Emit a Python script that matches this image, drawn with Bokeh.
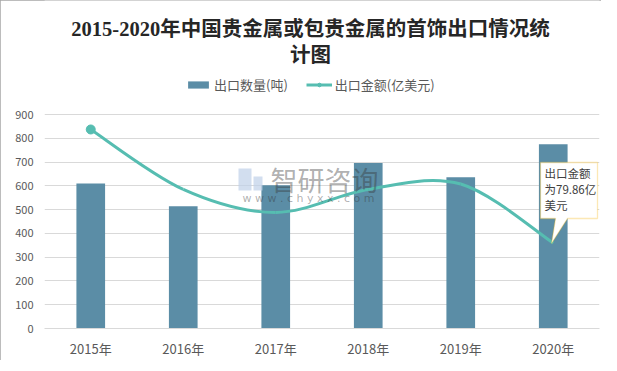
from bokeh.plotting import figure
from bokeh.models import (Range1d, FixedTicker, Label, Legend, LegendItem,
                          PolyAnnotation, BoxAnnotation)
from bokeh.embed import file_html
from bokeh.resources import INLINE

# ---- data ----
years = ["2015年", "2016年", "2017年", "2018年", "2019年", "2020年"]
export_volume = [610, 514, 602, 696, 636, 775]            # 出口数量(吨)
export_value = [186.0, 130.0, 108.5, 130.0, 135.0, 79.86]  # 出口金额(亿美元)
y_ticks = [0, 100, 200, 300, 400, 500, 600, 700, 800, 900]
title_lines = ["2015-2020年中国贵金属或包贵金属的首饰出口情况统", "计图"]

BAR = "#5B8DA6"
LINE = "#56BDB1"
CJK = "Noto Sans CJK SC"

# frame spans canvas y 0..328; the 0..900 grid occupies the lower 214 px
FRAME_H = 328
GRID_H = 214
y_top = 900 * FRAME_H / GRID_H
amt_top = 200 * FRAME_H / GRID_H

p = figure(frame_width=555, frame_height=FRAME_H, output_backend="svg",
           toolbar_location=None,
           x_range=Range1d(-0.5, len(years) - 0.5), y_range=Range1d(0, y_top),
           min_border_left=44, min_border_right=2, min_border_top=0,
           min_border_bottom=27)
p.extra_y_ranges = {"amt": Range1d(0, amt_top)}
p.outline_line_color = None
p.background_fill_color = "white"
p.border_fill_color = "white"
p.styles = {"outline": "1px solid #A6A6A6", "outline-offset": "-1px"}

idx = list(range(len(years)))

# bars
bars = p.vbar(x=idx, top=export_volume, width=0.31, fill_color=BAR, line_color=None)

# smooth line (Catmull-Rom rendered as Bezier segments)
n = len(export_value)
def pt(i):
    i = max(0, min(n - 1, i))
    return idx[i], export_value[i]
x0, y0, x1, y1, cx0, cy0, cx1, cy1 = [], [], [], [], [], [], [], []
for i in range(n - 1):
    pa, pb, pc, pd = pt(i - 1), pt(i), pt(i + 1), pt(i + 2)
    x0.append(pb[0]); y0.append(pb[1]); x1.append(pc[0]); y1.append(pc[1])
    cx0.append(pb[0] + (pc[0] - pa[0]) / 6); cy0.append(pb[1] + (pc[1] - pa[1]) / 6)
    cx1.append(pc[0] - (pd[0] - pb[0]) / 6); cy1.append(pc[1] - (pd[1] - pb[1]) / 6)
curve = p.bezier(x0=x0, y0=y0, x1=x1, y1=y1, cx0=cx0, cy0=cy0, cx1=cx1, cy1=cy1,
                 line_color=LINE, line_width=3, y_range_name="amt")
start = p.scatter(x=idx[:1], y=export_value[:1], size=9, marker="circle",
                  fill_color=LINE, line_color=LINE, y_range_name="amt")

# axes
p.xgrid.grid_line_color = None
p.ygrid.grid_line_color = "#D9D9D9"
p.ygrid.ticker = FixedTicker(ticks=y_ticks)
p.yaxis.ticker = FixedTicker(ticks=y_ticks)
p.xaxis.ticker = FixedTicker(ticks=idx)
p.xaxis.major_label_overrides = {i: y for i, y in zip(idx, years)}
for ax in (p.xaxis, p.yaxis):
    ax.axis_line_color = None
    ax.major_tick_line_color = None
    ax.minor_tick_line_color = None
    ax.major_tick_out = 0
    ax.major_tick_in = 0
    ax.major_label_text_color = "#595959"
    ax.major_label_text_font = CJK
p.xaxis.axis_line_color = "#D9D9D9"
p.yaxis.major_label_text_font_size = "11px"
p.xaxis.major_label_text_font_size = "13px"
p.yaxis.major_label_standoff = 11
p.xaxis.major_label_standoff = 10

# frame-relative helpers (frame left at x 44, bottom at y 328)
def fx(px):
    return px - 44
def fy(py):
    return FRAME_H - py

# legend
legend = Legend(items=[LegendItem(label="出口数量(吨)", renderers=[bars]),
                       LegendItem(label="出口金额(亿美元)", renderers=[curve, start])],
                orientation="horizontal", location=(fx(185), fy(94)),
                glyph_width=26, glyph_height=9, label_height=14, label_standoff=3,
                spacing=18, padding=0, margin=0, border_line_color=None,
                background_fill_alpha=0,
                label_text_font=CJK, label_text_font_size="13px",
                label_text_color="#595959")
p.add_layout(legend)

# title
for line, py in zip(title_lines, [28, 54]):
    p.add_layout(Label(x=fx(310), y=fy(py), x_units="screen", y_units="screen",
                       text=line, text_align="center", text_baseline="middle",
                       text_font="'Liberation Serif', 'Noto Sans CJK SC'",
                       text_font_style="bold", text_font_size="20.5px",
                       text_color="#262626"))

# watermark
p.add_layout(BoxAnnotation(left=fx(238), right=fx(251), bottom=fy(190), top=fy(168),
                           left_units="screen", right_units="screen",
                           bottom_units="screen", top_units="screen",
                           fill_color="#BFD0E8", fill_alpha=0.7, line_color=None))
p.add_layout(BoxAnnotation(left=fx(253), right=fx(262), bottom=fy(190), top=fy(176),
                           left_units="screen", right_units="screen",
                           bottom_units="screen", top_units="screen",
                           fill_color="#BFD0E8", fill_alpha=0.7, line_color=None))
p.add_layout(Label(x=fx(324), y=fy(179), x_units="screen", y_units="screen",
                   text="智研咨询", text_align="center", text_baseline="middle",
                   text_font=CJK, text_font_size="27px",
                   text_color="#333333", text_alpha=0.4))
p.add_layout(Label(x=fx(308), y=fy(198), x_units="screen", y_units="screen",
                   text="w w w . c h y x x . c o m", text_align="center",
                   text_baseline="middle", text_font="DejaVu Sans",
                   text_font_size="11px", text_color="#333333", text_alpha=0.4))

# callout
cx = [540, 597, 597, 567, 551, 555, 540]
cy = [162, 162, 218, 218, 243, 218, 218]
p.add_layout(PolyAnnotation(xs=[fx(v) for v in cx], ys=[fy(v) for v in cy],
                            xs_units="screen", ys_units="screen",
                            fill_color="white", fill_alpha=1,
                            line_color="#F5B20A", line_width=1.3))
callout = ["出口金额", f"为{export_value[-1]}亿", "美元"]
for t, py in zip(callout, [172, 188, 204]):
    p.add_layout(Label(x=fx(544), y=fy(py), x_units="screen", y_units="screen",
                       text=t, text_align="left", text_baseline="middle",
                       text_font=CJK, text_font_size="11.5px",
                       text_color="#404040"))

open("out.html", "w").write(file_html(p, INLINE))
